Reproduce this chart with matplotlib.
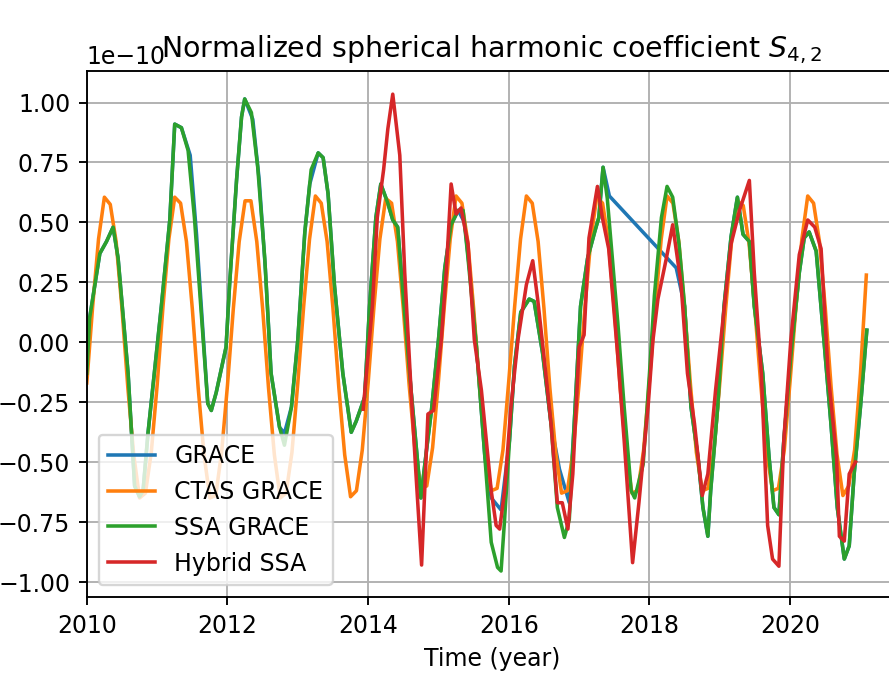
import matplotlib
matplotlib.use('Agg')
import matplotlib.pyplot as plt
import numpy as np

SCALE = 1e-10

# CTAS GRACE: monthly samples starting 2010.0 (values in units of 1e-10)
ctas_start = 2010.0
ctas_values = [
    -0.17, 0.15, 0.43, 0.605, 0.575, 0.42, 0.14, -0.19, -0.47, -0.65, -0.63, -0.46,   # 2010
    -0.18, 0.15, 0.43, 0.605, 0.58, 0.42, 0.14, -0.19, -0.47, -0.65, -0.64, -0.46,    # 2011
    -0.18, 0.14, 0.42, 0.59, 0.59, 0.42, 0.14, -0.19, -0.47, -0.65, -0.63, -0.46,     # 2012
    -0.17, 0.15, 0.43, 0.61, 0.58, 0.42, 0.14, -0.19, -0.47, -0.645, -0.62, -0.45,    # 2013
    -0.17, 0.15, 0.43, 0.60, 0.58, 0.42, 0.14, -0.18, -0.45, -0.61, -0.60, -0.44,     # 2014
    -0.16, 0.15, 0.43, 0.61, 0.58, 0.42, 0.14, -0.18, -0.46, -0.62, -0.61, -0.45,     # 2015
    -0.16, 0.15, 0.43, 0.61, 0.58, 0.42, 0.14, -0.19, -0.46, -0.63, -0.62, -0.45,     # 2016
    -0.17, 0.15, 0.43, 0.605, 0.58, 0.42, 0.14, -0.19, -0.46, -0.63, -0.62, -0.45,    # 2017
    -0.16, 0.15, 0.43, 0.61, 0.58, 0.42, 0.14, -0.18, -0.46, -0.62, -0.61, -0.45,     # 2018
    -0.17, 0.14, 0.42, 0.59, 0.57, 0.41, 0.13, -0.18, -0.46, -0.62, -0.61, -0.45,     # 2019
    -0.16, 0.15, 0.43, 0.61, 0.58, 0.42, 0.14, -0.19, -0.47, -0.64, -0.60, -0.45,     # 2020
    -0.13, 0.28,                                                                      # 2021
]

# SSA GRACE (read vertices)
ssa_t = [2010.00, 2010.04, 2010.185, 2010.28, 2010.374, 2010.445, 2010.587, 2010.68, 2010.75, 2010.80,
         2010.87, 2011.06, 2011.18, 2011.25, 2011.345, 2011.44, 2011.53, 2011.63, 2011.72, 2011.77,
         2011.84, 2011.98, 2012.03, 2012.13, 2012.20, 2012.245, 2012.34, 2012.43, 2012.53, 2012.62,
         2012.74, 2012.81, 2012.91, 2013.00, 2013.10, 2013.19, 2013.29, 2013.36, 2013.43, 2013.52,
         2013.64, 2013.76, 2013.83, 2013.95, 2014.02, 2014.11, 2014.18, 2014.28, 2014.35, 2014.42,
         2014.51, 2014.61, 2014.75, 2014.83, 2014.90, 2015.00, 2015.09, 2015.18, 2015.28, 2015.35,
         2015.42, 2015.54, 2015.66, 2015.75, 2015.84, 2015.89, 2015.94, 2016.01, 2016.08, 2016.17,
         2016.29, 2016.36, 2016.48, 2016.60, 2016.69, 2016.79, 2016.86, 2016.93, 2017.02, 2017.12,
         2017.24, 2017.28, 2017.34, 2017.40, 2017.55, 2017.64, 2017.74, 2017.79, 2017.91, 2018.00,
         2018.07, 2018.17, 2018.25, 2018.33, 2018.42, 2018.50, 2018.59, 2018.69, 2018.76, 2018.83,
         2018.87, 2018.97, 2019.06, 2019.16, 2019.25, 2019.33, 2019.42, 2019.49, 2019.61, 2019.70,
         2019.77, 2019.84, 2019.91, 2020.01, 2020.13, 2020.20, 2020.27, 2020.37, 2020.48, 2020.58,
         2020.67, 2020.77, 2020.84, 2020.91, 2021.00, 2021.09]
ssa_v = [-0.13, 0.10, 0.37, 0.42, 0.48, 0.35, -0.13, -0.60, -0.645, -0.62,
         -0.38, 0.15, 0.51, 0.91, 0.895, 0.80, 0.52, 0.11, -0.256, -0.285,
         -0.21, -0.02, 0.24, 0.68, 0.94, 1.015, 0.958, 0.73, 0.35, -0.13,
         -0.355, -0.43, -0.27, 0.01, 0.46, 0.72, 0.79, 0.77, 0.62, 0.24,
         -0.13, -0.376, -0.33, -0.23, 0.15, 0.52, 0.66, 0.58, 0.51, 0.48,
         0.15, -0.20, -0.65, -0.45, -0.285, 0.01, 0.31, 0.49, 0.55, 0.55,
         0.35, -0.02, -0.48, -0.835, -0.94, -0.955, -0.74, -0.41, -0.10, 0.125,
         0.18, 0.17, -0.045, -0.34, -0.69, -0.815, -0.74, -0.34, 0.15, 0.35,
         0.48, 0.52, 0.73, 0.60, 0.08, -0.27, -0.62, -0.65, -0.51, -0.13,
         0.195, 0.52, 0.65, 0.605, 0.41, 0.15, -0.27, -0.48, -0.69, -0.81,
         -0.62, -0.27, 0.15, 0.44, 0.605, 0.45, 0.42, 0.15, -0.13, -0.48,
         -0.69, -0.72, -0.41, -0.06, 0.29, 0.435, 0.46, 0.38, 0.01, -0.34,
         -0.69, -0.905, -0.85, -0.55, -0.27, 0.05]

# GRACE (read vertices; gaps are bridged by straight segments)
grace_t = [2010.00, 2010.04, 2010.185, 2010.28, 2010.374, 2010.445, 2010.587, 2010.68, 2010.75, 2010.80,
           2010.87, 2011.06, 2011.18, 2011.25, 2011.345, 2011.47, 2011.56, 2011.65, 2011.72, 2011.77,
           2011.84, 2011.98, 2012.03, 2012.13, 2012.20, 2012.245, 2012.36, 2012.45, 2012.54, 2012.62,
           2012.74, 2012.81, 2012.91, 2013.00, 2013.10, 2013.17, 2013.29, 2013.36, 2013.43, 2013.52,
           2013.64, 2013.76, 2013.83, 2013.95, 2014.02, 2014.11, 2014.18, 2014.28, 2014.35, 2014.42,
           2014.51, 2014.61, 2014.75, 2014.83, 2014.90, 2015.00, 2015.09, 2015.18, 2015.28, 2015.37,
           2015.45, 2015.54, 2015.66, 2015.75, 2015.89, 2016.01, 2016.08, 2016.17,
           2016.29, 2016.36, 2016.48, 2016.60, 2016.72, 2016.86, 2016.93, 2017.02, 2017.12,
           2017.22, 2017.28, 2017.34, 2017.43, 2018.38, 2018.50, 2018.59, 2018.69, 2018.76, 2018.83,
           2018.87, 2018.97, 2019.06, 2019.16, 2019.25, 2019.33, 2019.42, 2019.49, 2019.61, 2019.70,
           2019.77, 2019.84, 2019.91, 2020.01, 2020.13, 2020.20, 2020.27, 2020.37, 2020.48, 2020.58,
           2020.67, 2020.77, 2020.84, 2020.91, 2021.00, 2021.09]
grace_v = [-0.13, 0.10, 0.37, 0.42, 0.48, 0.35, -0.13, -0.60, -0.645, -0.62,
           -0.38, 0.15, 0.51, 0.91, 0.895, 0.78, 0.45, 0.05, -0.256, -0.285,
           -0.21, -0.02, 0.24, 0.68, 0.94, 1.015, 0.93, 0.68, 0.30, -0.13,
           -0.355, -0.38, -0.27, 0.01, 0.46, 0.66, 0.79, 0.77, 0.62, 0.24,
           -0.13, -0.376, -0.33, -0.23, 0.15, 0.52, 0.66, 0.58, 0.51, 0.48,
           0.15, -0.20, -0.65, -0.45, -0.285, 0.01, 0.31, 0.49, 0.55, 0.50,
           0.28, -0.02, -0.48, -0.65, -0.70, -0.41, -0.10, 0.125,
           0.18, 0.17, -0.045, -0.34, -0.53, -0.67, -0.34, 0.15, 0.35,
           0.46, 0.52, 0.73, 0.61, 0.31, 0.15, -0.27, -0.48, -0.69, -0.81,
           -0.62, -0.27, 0.15, 0.44, 0.605, 0.45, 0.42, 0.15, -0.13, -0.48,
           -0.69, -0.72, -0.41, -0.06, 0.29, 0.435, 0.46, 0.38, 0.01, -0.34,
           -0.69, -0.905, -0.85, -0.55, -0.27, 0.05]

# Hybrid SSA (read vertices)
hyb_t = [2013.93, 2014.06, 2014.13, 2014.22, 2014.28, 2014.35, 2014.45, 2014.52, 2014.61, 2014.68,
         2014.76, 2014.85, 2014.93, 2015.04, 2015.11, 2015.18, 2015.25, 2015.32, 2015.42, 2015.51,
         2015.61, 2015.75, 2015.82, 2015.87, 2015.94, 2016.03, 2016.13, 2016.25, 2016.34, 2016.41,
         2016.50, 2016.60, 2016.69, 2016.76, 2016.84, 2016.91, 2017.00, 2017.07, 2017.14, 2017.26,
         2017.33, 2017.42, 2017.55, 2017.64, 2017.76, 2017.85, 2017.98, 2018.05, 2018.12, 2018.24,
         2018.33, 2018.45, 2018.54, 2018.64, 2018.75, 2018.83, 2018.94, 2019.04, 2019.16, 2019.28,
         2019.42, 2019.49, 2019.59, 2019.68, 2019.75, 2019.84, 2019.91, 2020.01, 2020.13, 2020.25,
         2020.35, 2020.44, 2020.54, 2020.66, 2020.70, 2020.77, 2020.84, 2020.93]
hyb_v = [-0.28, 0.15, 0.52, 0.72, 0.89, 1.035, 0.78, 0.29, -0.20, -0.55,
         -0.93, -0.30, -0.285, 0.01, 0.29, 0.66, 0.535, 0.56, 0.41, 0.01,
         -0.20, -0.62, -0.765, -0.78, -0.62, -0.27, 0.01, 0.24, 0.34, 0.18,
         -0.06, -0.34, -0.67, -0.67, -0.78, -0.55, -0.02, 0.03, 0.435, 0.65,
         0.52, 0.39, -0.06, -0.41, -0.92, -0.67, -0.27, 0.01, 0.18, 0.35,
         0.49, 0.24, -0.13, -0.34, -0.64, -0.55, -0.20, 0.08, 0.41, 0.55,
         0.675, 0.29, -0.13, -0.765, -0.905, -0.935, -0.41, 0.01, 0.365, 0.51,
         0.48, 0.39, -0.13, -0.48, -0.81, -0.83, -0.55, -0.50]

labels = ["GRACE", "CTAS GRACE", "SSA GRACE", "Hybrid SSA"]
y_ticks = [-1.00, -0.75, -0.50, -0.25, 0.00, 0.25, 0.50, 0.75, 1.00]
x_ticks = [2010, 2012, 2014, 2016, 2018, 2020]

DPI = 170
fig = plt.figure(figsize=(889.4 / DPI, 685.4 / DPI), dpi=DPI)
ax = fig.add_axes([0.0976, 0.1289, 0.9114, 0.7667])

ctas_t = ctas_start + np.arange(len(ctas_values)) / 12.0

ax.plot(grace_t, np.array(grace_v) * SCALE, label=labels[0])
ax.plot(ctas_t, np.array(ctas_values) * SCALE, label=labels[1])
ax.plot(ssa_t, np.array(ssa_v) * SCALE, label=labels[2])
ax.plot(hyb_t, np.array(hyb_v) * SCALE, label=labels[3])

ax.set_xlim(2010, 2021.525)
ax.set_ylim(-1.062 * SCALE, 1.131 * SCALE)
ax.set_xticks(x_ticks)
ax.set_yticks(np.array(y_ticks) * SCALE)
ax.grid(True)
ax.set_title("Normalized spherical harmonic coefficient $S_{4,2}$", y=1.0, pad=6)
ax.set_xlabel("Time (year)")
ax.legend(loc="lower left")

fig.savefig("out.png", dpi=DPI)
